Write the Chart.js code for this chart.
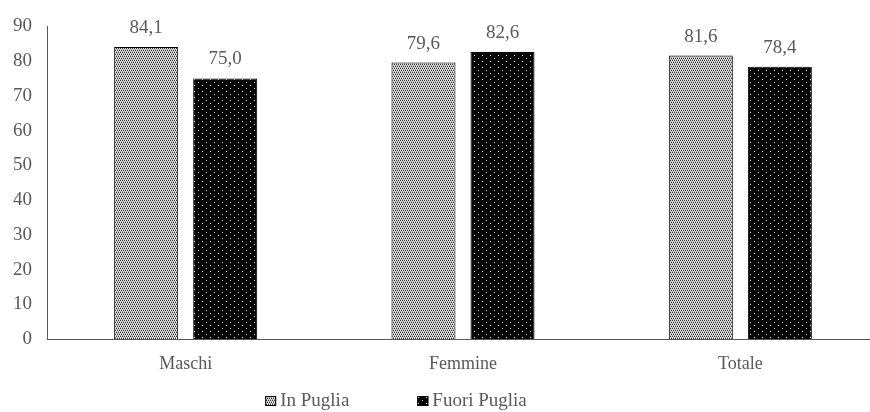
<!DOCTYPE html>
<html>
<head>
<meta charset="utf-8">
<script src="https://cdn.jsdelivr.net/npm/chart.js@4/dist/chart.umd.min.js"></script>
<style>
html,body{margin:0;padding:0;background:#fff;overflow:hidden;}
#wrap{width:880px;height:412px;position:relative;}
</style>
</head>
<body>
<div id="wrap"><canvas id="c" width="880" height="412"></canvas></div>
<script>
const categories = ["Maschi", "Femmine", "Totale"];
const inPuglia = [84.1, 79.6, 81.6];
const fuoriPuglia = [75.0, 82.6, 78.4];
const seriesNames = ["In Puglia", "Fuori Puglia"];
const yTicks = [0, 10, 20, 30, 40, 50, 60, 70, 80, 90];

function makePattern(w, h, bg, dots) {
  const c = document.createElement('canvas');
  c.width = w; c.height = h;
  const x = c.getContext('2d');
  x.fillStyle = bg; x.fillRect(0, 0, w, h);
  dots.forEach(d => { x.fillStyle = d[2]; x.fillRect(d[0], d[1], 1, 1); });
  return document.getElementById('c').getContext('2d').createPattern(c, 'repeat');
}
const patLight = makePattern(4, 4, '#e2e2e2', [[0,0,'#333'],[2,0,'#333'],[1,2,'#333'],[3,2,'#333'],[1,1,'#999'],[3,1,'#999'],[0,3,'#999'],[2,3,'#999']]);
const patDark = makePattern(8, 6, '#000', [[2,1,'#fff'],[6,4,'#ccc']]);

const TXT = '#595959';
const FAM = '"Liberation Serif", "Times New Roman", serif';

const labelPlugin = {
  id: 'vlabels',
  afterDatasetsDraw(chart) {
    const ctx = chart.ctx;
    ctx.save();
    ctx.font = '19px ' + FAM;
    ctx.fillStyle = TXT;
    ctx.textAlign = 'center';
    ctx.textBaseline = 'middle';
    chart.data.datasets.forEach((ds, i) => {
      chart.getDatasetMeta(i).data.forEach((bar, j) => {
        ctx.fillText(ds.data[j].toFixed(1).replace('.', ','), bar.x, bar.y - 19);
      });
    });
    ctx.restore();
  }
};

const legendPlugin = {
  id: 'customLegend',
  afterDraw(chart) {
    const ctx = chart.ctx;
    ctx.save();
    ctx.font = '19px ' + FAM;
    ctx.textBaseline = 'middle';
    ctx.textAlign = 'left';
    const box = 11, gapBox = 4, gapItem = 68;
    const items = chart.data.datasets.map(ds => ({ds, w: ctx.measureText(ds.label).width}));
    let total = 0;
    items.forEach((it, i) => { total += box + gapBox + it.w + (i < items.length - 1 ? gapItem : 0); });
    let x = 396 - total / 2;
    const yc = chart.chartArea.bottom + 62;
    items.forEach(it => {
      ctx.fillStyle = it.ds.backgroundColor;
      ctx.fillRect(x, yc - 5, box, box - 1);
      ctx.strokeStyle = '#000'; ctx.lineWidth = 1;
      ctx.strokeRect(x + 0.5, yc - 4.5, box - 1, box - 2);
      x += box + gapBox;
      ctx.fillStyle = TXT;
      ctx.fillText(it.ds.label, x, yc);
      x += it.w + gapItem;
    });
    ctx.restore();
  }
};

new Chart(document.getElementById('c'), {
  type: 'bar',
  data: {
    labels: categories,
    datasets: [
      {label: seriesNames[0], data: inPuglia, backgroundColor: patLight, borderColor: '#000', borderWidth: 1, barPercentage: 0.81, categoryPercentage: 0.57},
      {label: seriesNames[1], data: fuoriPuglia, backgroundColor: patDark, borderColor: '#000', borderWidth: 1, barPercentage: 0.81, categoryPercentage: 0.57}
    ]
  },
  options: {
    responsive: false,
    animation: false,
    layout: {padding: {top: 20, right: 1, left: 0, bottom: 33}},
    plugins: {
      legend: {display: false},
      tooltip: {enabled: false}
    },
    scales: {
      x: {
        grid: {display: false, drawTicks: false},
        border: {color: '#595959', width: 1},
        ticks: {font: {family: FAM, size: 18}, color: TXT, padding: 14},
        afterFit(s) { s.height = 40; }
      },
      y: {
        min: 0, max: 90,
        afterBuildTicks(s) { s.ticks = yTicks.map(v => ({value: v})); },
        grid: {display: false, drawTicks: false},
        border: {color: '#595959', width: 1},
        ticks: {font: {family: FAM, size: 19}, color: TXT, padding: 15},
        afterFit(s) { s.width = 47; }
      }
    }
  },
  plugins: [labelPlugin, legendPlugin]
});
</script>
</body>
</html>
